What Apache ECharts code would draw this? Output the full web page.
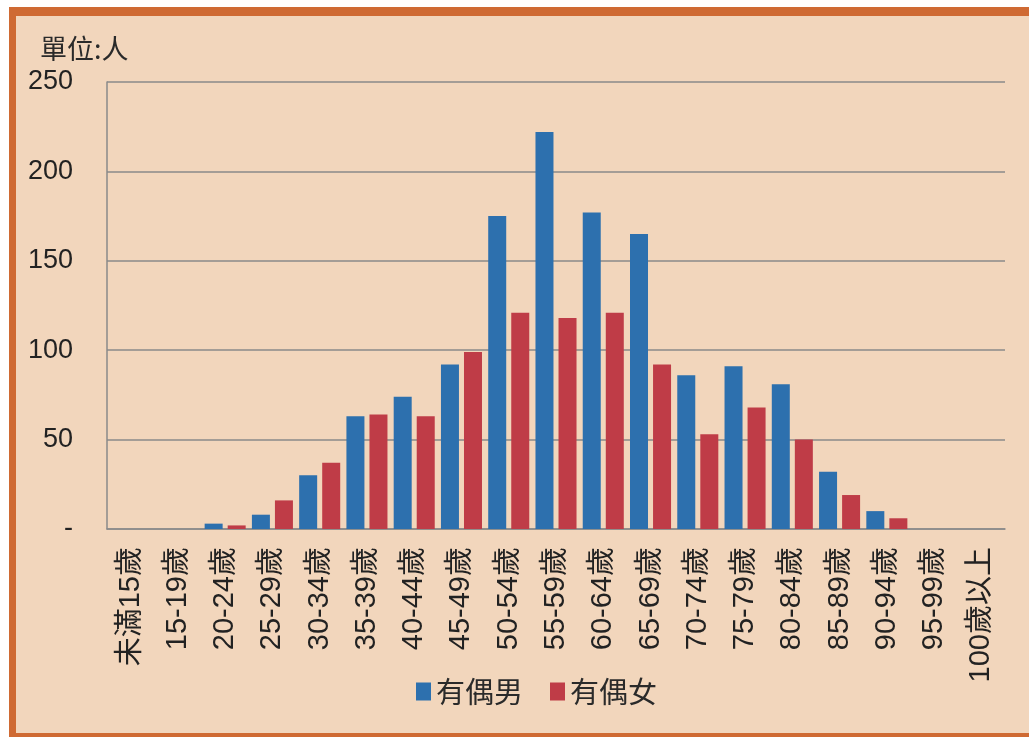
<!DOCTYPE html>
<html><head><meta charset="utf-8">
<script src="https://cdn.jsdelivr.net/npm/echarts@6/dist/echarts.min.js"></script>
<style>html,body{margin:0;padding:0;background:#fff;}#c{width:1029px;height:737px;}</style>
</head><body><div id="c"></div>
<script>
const categories = ['未滿15歲','15-19歲','20-24歲','25-29歲','30-34歲','35-39歲','40-44歲','45-49歲','50-54歲','55-59歲','60-64歲','65-69歲','70-74歲','75-79歲','80-84歲','85-89歲','90-94歲','95-99歲','100歲以上'];
const maleValues   = [0, 0, 3, 8, 30, 63, 74, 92, 175, 222, 177, 165, 86, 91, 81, 32, 10, 0, 0];
const femaleValues = [0, 0, 2, 16, 37, 64, 63, 99, 121, 118, 121, 92, 53, 68, 50, 19, 6, 0, 0];
const yTicks = [0, 50, 100, 150, 200, 250];
const seriesNames = ['有偶男', '有偶女'];
const unitLabel = '單位:人';

const chart = echarts.init(document.getElementById('c'), null, {renderer: 'canvas'});
const font = '"Liberation Sans", "Noto Sans CJK TC", sans-serif';
chart.setOption({
  animation: false,
  backgroundColor: '#ffffff',
  graphic: [
    {type: 'rect', z: -10, shape: {x: 9, y: 7, width: 1020, height: 730}, style: {fill: '#cf6a33'}},
    {type: 'rect', z: -9, shape: {x: 16, y: 16, width: 1013, height: 717}, style: {fill: '#f2d6bc'}},
    {type: 'text', left: 40, top: 35, style: {text: unitLabel, fontSize: 27, fill: '#2a2a2a', fontFamily: '"Noto Sans CJK TC", serif'}}
  ],
  grid: {left: 107, right: 24, top: 82, bottom: 208, containLabel: false},
  legend: {
    left: 411, top: 672, itemWidth: 15, itemHeight: 18, itemGap: 27,
    icon: 'rect',
    textStyle: {fontSize: 29, color: '#2a2a2a', fontFamily: '"Noto Sans CJK TC", sans-serif'},
    data: seriesNames
  },
  xAxis: {
    type: 'category', data: categories,
    axisLine: {lineStyle: {color: '#8a8a8a', width: 1.5}},
    axisTick: {show: false},
    axisLabel: {interval: 0, rotate: 90, fontSize: 29, color: '#222', margin: 18, fontFamily: font}
  },
  yAxis: {
    type: 'value', min: 0, max: 250, interval: 50,
    axisLine: {show: true, lineStyle: {color: '#8a8a8a', width: 1.5}},
    axisTick: {show: false},
    splitLine: {lineStyle: {color: '#8a8a8a', width: 1.5}},
    axisLabel: {fontSize: 27, color: '#222', margin: 34, fontFamily: font,
      formatter: v => yTicks.includes(v) ? (v === 0 ? '-' : String(v)) : ''}
  },
  series: [
    {name: seriesNames[0], type: 'bar', data: maleValues, barWidth: 18, barGap: '28%', itemStyle: {color: '#2d70ae'}},
    {name: seriesNames[1], type: 'bar', data: femaleValues, barWidth: 18, itemStyle: {color: '#bf3c47'}}
  ]
});
</script></body></html>
